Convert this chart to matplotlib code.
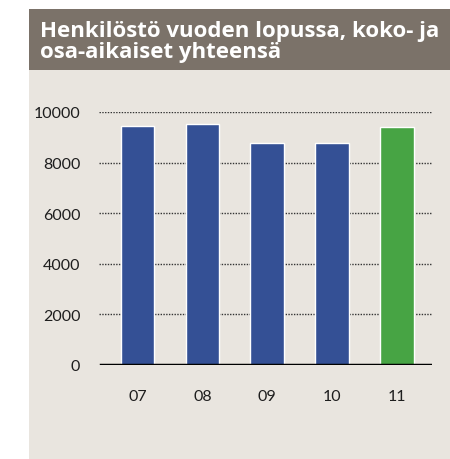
import matplotlib
matplotlib.use("Agg")
import matplotlib.pyplot as plt
from matplotlib.patches import Rectangle

years = ["07", "08", "09", "10", "11"]
staff = [9430, 9520, 8790, 8760, 9400]
bar_colors = ["#345095", "#345095", "#345095", "#345095", "#47a444"]
yticks = [0, 2000, 4000, 6000, 8000, 10000]
title = "Henkilöstö vuoden lopussa, koko- ja\nosa-aikaiset yhteensä"

W, H = 450, 460
fig = plt.figure(figsize=(W / 100, H / 100), dpi=100)
fig.patch.set_facecolor("white")

# background panel and title band
fig.patches.append(Rectangle((29 / W, 0), 1 - 29 / W, 1 - 71 / H, transform=fig.transFigure,
                             facecolor="#e9e5df", edgecolor="none", zorder=-2))
fig.patches.append(Rectangle((29 / W, 1 - 71 / H), 1 - 29 / W, 61 / H, transform=fig.transFigure,
                             facecolor="#7b7269", edgecolor="none", zorder=-1))
fig.text(40 / W, 1 - 42 / H, title, color="white", fontsize=16, fontweight="bold",
         family=["Open Sans", "DejaVu Sans"], va="center", ha="left", linespacing=0.95)

left, right = 99 / W, 432 / W
bottom, top = 1 - 366 / H, 1 - 113 / H
ax = fig.add_axes([left, bottom, right - left, top - bottom])
ax.set_facecolor("none")
x = list(range(len(years)))
ax.bar(x, staff, width=0.52, color=bar_colors, edgecolor="white", linewidth=1, zorder=3)
for v in yticks[1:]:
    ax.axhline(v, color="#333333", lw=1, ls=(0, (1, 1)), zorder=1)
ax.axhline(0, color="black", lw=2.5, zorder=4, xmin=0.006, xmax=0.994)
ax.set_xlim(-0.594, 4.54)
ax.set_ylim(0, 10000)
ax.set_yticks(yticks)
ax.set_yticklabels([str(v) for v in yticks])
ax.set_xticks(x)
ax.set_xticklabels(years)
for s in ax.spines.values():
    s.set_visible(False)
ax.tick_params(axis="y", length=0, pad=13.5, labelsize=11.5, labelcolor="#1e1e1e")
ax.tick_params(axis="x", length=0, pad=17, labelsize=11.5, labelcolor="#1e1e1e")
for lab in ax.get_xticklabels() + ax.get_yticklabels():
    lab.set_family(["Lato", "DejaVu Sans"])
    lab.set_fontweight("normal")

fig.savefig("out.png", dpi=100)
